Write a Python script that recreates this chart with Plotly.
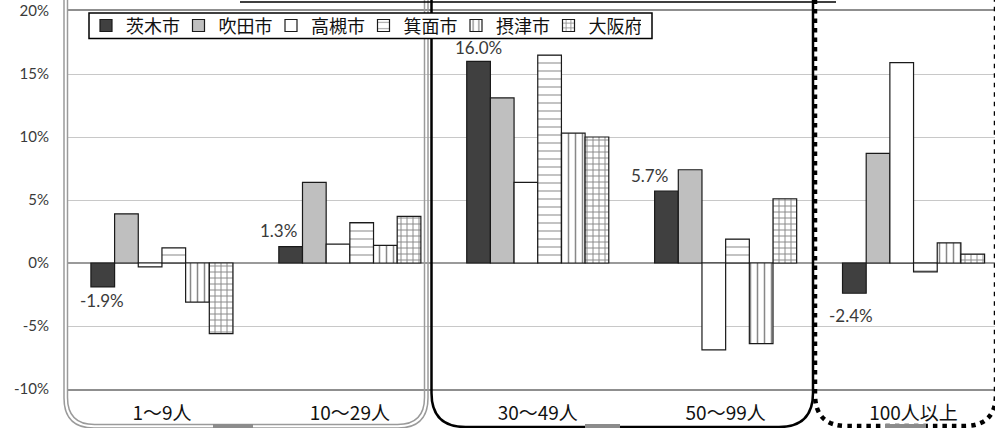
import plotly.graph_objects as go

# Establishment size classes (x categories)
categories = ["1～9人", "10～29人", "30～49人", "50～99人", "100人以上"]

# Change rates (%) by area
ibaraki = [-1.9, 1.3, 16.0, 5.7, -2.4]
suita = [3.9, 6.4, 13.1, 7.4, 8.7]
takatsuki = [-0.3, 1.5, 6.4, -6.9, 15.9]
minoh = [1.2, 3.2, 16.5, 1.9, -0.7]
settsu = [-3.1, 1.4, 10.3, -6.4, 1.6]
osaka = [-5.6, 3.7, 10.0, 5.1, 0.7]

series_names = ["茨木市", "吹田市", "高槻市", "箕面市", "摂津市", "大阪府"]
y_ticks = [-10, -5, 0, 5, 10, 15, 20]
y_tick_text = [f"{v}%" for v in y_ticks]

W_FIG, H_FIG = 995, 428
L, T, B = 68, 11, 39
PW, PH = W_FIG - L, H_FIG - T - B
CAT_W = 187.9
BARGAP = 0.244

JP_FONT = "Noto Sans CJK JP"
NUM_FONT = "Lato, Open Sans, sans-serif"
OUTLINE = dict(color="#1a1a1a", width=1.2)

styles = [
    dict(color="#404040"),
    dict(color="#bfbfbf"),
    dict(color="#ffffff"),
    dict(color="#ffffff", pattern=dict(shape="-", fgcolor="#444444", bgcolor="#ffffff", size=8, solidity=0.16)),
    dict(color="#ffffff", pattern=dict(shape="|", fgcolor="#111111", bgcolor="#ffffff", size=7, solidity=0.22)),
    dict(color="#ffffff", pattern=dict(shape="+", fgcolor="#111111", bgcolor="#ffffff", size=6, solidity=0.3)),
]

fig = go.Figure()
for name, vals, st in zip(series_names, [ibaraki, suita, takatsuki, minoh, settsu, osaka], styles):
    fig.add_trace(go.Bar(
        x=categories, y=vals, name=name,
        marker=dict(line=OUTLINE, **st),
        hoverinfo="skip",
    ))

# Value labels for 茨木市, placed next to each bar end
group_w = 1 - BARGAP
bar_w = group_w / len(series_names)
off0 = -group_w / 2 + bar_w / 2
label_shift = [(-1, -14), (-12, 16), (0, 14), (-17, 16), (-3, -22)]
for i, (v, (dx, dy)) in enumerate(zip(ibaraki, label_shift)):
    fig.add_annotation(
        x=i + off0, y=v, xref="x", yref="y",
        text=f"{v:.1f}%", showarrow=False,
        xshift=dx, yshift=dy,
        font=dict(family=NUM_FONT, size=17, color="#3a3a3a"),
    )


def px(x):
    return (x - L) / PW


def py(y):
    return (T + PH - y) / PH


def open_box(x0, x1, ybot, r, ytop=-10):
    return (f"M {px(x0)},{py(ytop)} L {px(x0)},{py(ybot - r)} "
            f"Q {px(x0)},{py(ybot)} {px(x0 + r)},{py(ybot)} "
            f"L {px(x1 - r)},{py(ybot)} "
            f"Q {px(x1)},{py(ybot)} {px(x1)},{py(ybot - r)} "
            f"L {px(x1)},{py(ytop)}")


shapes = []
# grey double-line group frame
shapes.append(dict(type="path", xref="paper", yref="paper", path=open_box(64, 428, 428, 30),
                   line=dict(color="#9a9a9a", width=1.5)))
shapes.append(dict(type="path", xref="paper", yref="paper", path=open_box(67.5, 424.5, 424.5, 27),
                   line=dict(color="#9a9a9a", width=1.5)))
# solid black group frame
shapes.append(dict(type="path", xref="paper", yref="paper", path=open_box(431.5, 813, 427, 34),
                   line=dict(color="#000000", width=2.5)))
# dotted group frame
shapes.append(dict(type="path", xref="paper", yref="paper", path=open_box(815, 996, 426, 32),
                   line=dict(color="#000000", width=4.5, dash="4.5px,5px")))
# heading frame edge along the top
shapes.append(dict(type="line", xref="paper", yref="paper", x0=px(240), x1=px(836), y0=py(2), y1=py(2),
                   line=dict(color="#000000", width=1.5)))
# small grey tabs under each frame
for a, b in [(213, 253), (585, 620), (885, 926)]:
    shapes.append(dict(type="rect", xref="paper", yref="paper", x0=px(a), x1=px(b), y0=py(428), y1=py(424),
                       fillcolor="#8c8c8c", line=dict(width=0)))
# legend frame
shapes.append(dict(type="rect", xref="paper", yref="paper", x0=px(89), x1=px(652), y0=py(38.5), y1=py(13),
                   fillcolor="white", line=dict(color="#000000", width=1.5)))

fig.update_layout(
    width=W_FIG, height=H_FIG,
    margin=dict(l=L, r=0, t=T, b=B),
    paper_bgcolor="white", plot_bgcolor="white",
    barmode="group", bargap=BARGAP, bargroupgap=0,
    showlegend=True,
    legend=dict(
        orientation="h", x=px(86), y=py(25.8), xanchor="left", yanchor="middle",
        bgcolor="rgba(0,0,0,0)", borderwidth=0,
        font=dict(family=JP_FONT, size=18, color="#111111"),
        itemwidth=30, entrywidth=47.5, tracegroupgap=0,
        itemclick=False, itemdoubleclick=False,
    ),
    xaxis=dict(
        range=[-0.5, -0.5 + PW / CAT_W],
        showgrid=False, showline=True, mirror=True, linecolor="#8f8f8f", linewidth=1.5,
        ticks="", tickfont=dict(family=JP_FONT, size=19, color="#111111"),
        ticklabelstandoff=6, fixedrange=True,
    ),
    yaxis=dict(
        range=[-10, 20], tickvals=y_ticks, ticktext=y_tick_text,
        showgrid=True, gridcolor="#c8c8c8", gridwidth=1,
        zeroline=True, zerolinecolor="#9a9a9a", zerolinewidth=1.5,
        showline=False, ticks="", ticklabelstandoff=18,
        tickfont=dict(family=NUM_FONT, size=15, color="#3a3a3a"),
        fixedrange=True,
    ),
    shapes=shapes,
)

fig.write_html("out.html")
